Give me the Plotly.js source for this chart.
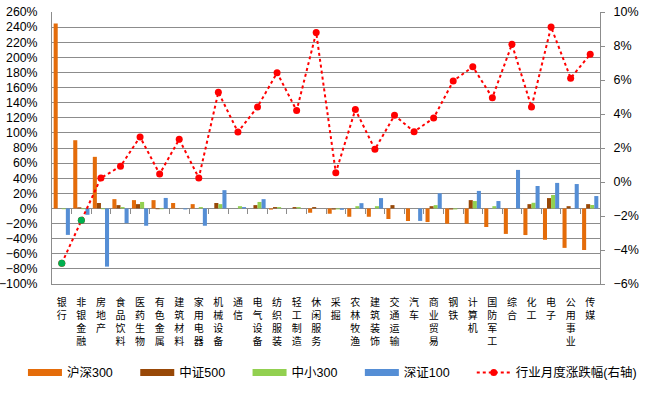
<!DOCTYPE html>
<html>
<head>
<meta charset="utf-8">
<script src="https://cdn.plot.ly/plotly-3.0.1.min.js"></script>
<style>html,body{margin:0;padding:0;background:#fff;}#chart{width:650px;height:395px;}</style>
</head>
<body>
<div id="chart"></div>
<script>
const categories = ["银行","非银金融","房地产","食品饮料","医药生物","有色金属","建筑材料","家用电器","机械设备","通信","电气设备","纺织服装","轻工制造","休闲服务","采掘","农林牧渔","建筑装饰","交通运输","汽车","商业贸易","钢铁","计算机","国防军工","综合","化工","电子","公用事业","传媒"];

const hs300 = [244.7,90.3,68.3,12.3,11,11,7.2,5.7,0,0,0,-1.5,0,-5.7,-7,-11,-11,-14,-16.6,-18,-20.2,-20.2,-24.6,-33.7,-35.2,-41.4,-52.2,-55];
const zz500 = [0,1.5,7.2,4.4,5.7,-1,0.3,0,7.2,0,4.4,1.8,1.8,1.8,-1.5,0,0,4.4,0,3,-1.4,11,0,0,5.7,13.7,3,5.7];
const zx300 = [-1,-1,-1,1.8,8.6,-1,0,1.8,5.7,3,8.6,1.8,1.8,0,-1.2,3,3,0,0,4.4,-1.3,9.8,3,0,7.5,17.8,0,4.6];
const sz100 = [-35,-8.4,-77,-19.4,-22.9,13.9,-1.3,-22.9,24.2,1.8,12.3,0,0,0,-1.8,7,13.7,0,-16.5,20,0,23.2,9.8,51,29.7,33.8,32.3,16.4];
const monthly = [-4.78,-2.25,0.24,0.92,2.65,0.47,2.51,0.24,5.28,2.94,4.41,6.43,4.2,8.79,0.55,4.26,1.92,3.92,2.96,3.76,5.94,6.78,4.96,8.1,4.41,9.12,6.11,7.51];

const seriesNames = ["沪深300","中证500","中小300","深证100"];
const lineName = "行业月度涨跌幅(右轴)";
const colors = ["#E46C0A","#984807","#92D050","#558ED5"];
const gridColor = "#8c8c8c";
const FONT = "Liberation Sans, Arial, Noto Sans CJK SC, sans-serif";

const barData = [hs300, zz500, zx300, sz100];
const traces = [];
barData.forEach((vals, k) => {
  traces.push({type:"bar", x:categories, y:vals, name:seriesNames[k], marker:{color:colors[k]}, showlegend:false, yaxis:"y", xaxis:"x", hoverinfo:"none"});
});
traces.push({type:"scatter", mode:"lines+markers", x:categories, y:monthly, name:lineName, yaxis:"y2", xaxis:"x",
  line:{color:"#FF0000", width:2, dash:"dot"}, marker:{color:"#FF0000", size:7}, showlegend:false});
traces.push({type:"scatter", mode:"markers", x:categories, y:monthly.map(v => v < 0 ? v : null), yaxis:"y2", xaxis:"x",
  marker:{color:"#00B050", size:7}, showlegend:false});
// legend entries
seriesNames.forEach((n, k) => {
  traces.push({type:"scatter", mode:"lines", x:[null], y:[null], name:n, xaxis:"x2", yaxis:"y", line:{color:colors[k], width:7}, showlegend:true, legend:"legend"});
});
traces.push({type:"scatter", mode:"lines+markers", x:[null], y:[null], name:lineName, xaxis:"x2", yaxis:"y",
  line:{color:"#FF0000", width:2, dash:"dot"}, marker:{color:"#FF0000", size:7}, showlegend:true, legend:"legend2"});

const yMin = -100, yMax = 260;
const legendCommon = {orientation:"h", xanchor:"left", y:-0.327, yanchor:"middle", font:{size:12.5}, itemwidth:34, tracegroupgap:0, traceorder:"normal", bgcolor:"rgba(0,0,0,0)"};
const layout = {
  width:650, height:395,
  margin:{l:52, r:50, t:12, b:111, autoexpand:false},
  paper_bgcolor:"#fff", plot_bgcolor:"#fff",
  font:{family:FONT, size:12.5, color:"#000"},
  barmode:"group", bargap:0.17, bargroupgap:0,
  showlegend:true,
  legend:Object.assign({}, legendCommon, {x:-0.053, entrywidth:63.3, entrywidthmode:"pixels"}),
  legend2:Object.assign({}, legendCommon, {x:0.766}),
  xaxis:{type:"category", range:[-0.5, categories.length-0.5], tickmode:"array", tickvals:categories,
    ticktext:categories.map(c => c.split("").join("<br>")), tickangle:0, ticks:"", showgrid:false, automargin:false,
    showline:true, linecolor:gridColor, linewidth:1, tickfont:{size:10, family:"Noto Sans CJK SC, sans-serif"}, ticklabelstandoff:9, fixedrange:true},
  xaxis2:{overlaying:"x", anchor:"free", position:(0 - yMin)/(yMax - yMin), type:"linear", range:[-0.5, categories.length-0.5],
    tickmode:"array", tickvals:categories.slice(1).map((c,i) => i + 0.5), ticks:"outside", ticklen:5, tickcolor:gridColor, tickwidth:1,
    showticklabels:false, showgrid:false, zeroline:false, showline:false, automargin:false},
  yaxis:{range:[yMin, yMax], tickmode:"linear", tick0:0, dtick:20, ticksuffix:"%", showgrid:true, gridcolor:gridColor, gridwidth:1, automargin:false,
    zeroline:true, zerolinecolor:gridColor, zerolinewidth:1, showline:true, linecolor:gridColor, ticks:"", ticklabelstandoff:11, tickfont:{size:12.3}},
  yaxis2:{overlaying:"y", side:"right", range:[-6, 10], tickmode:"linear", tick0:0, dtick:2, ticksuffix:"%", showgrid:false, automargin:false,
    zeroline:false, showline:true, linecolor:gridColor, ticks:"outside", ticklen:4, tickcolor:gridColor, ticklabelstandoff:6}
};

Plotly.newPlot("chart", traces, layout, {displayModeBar:false, staticPlot:true});
</script>
</body>
</html>
